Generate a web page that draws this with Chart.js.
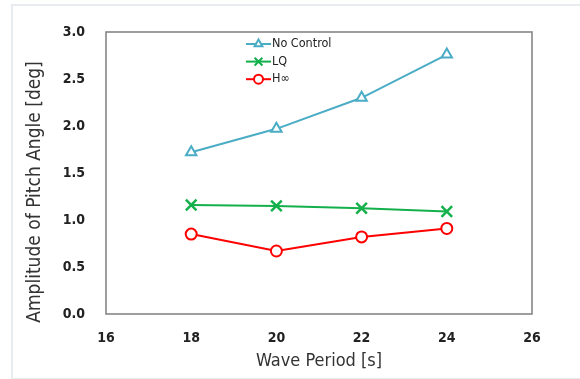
<!DOCTYPE html>
<html>
<head>
<meta charset="utf-8">
<script src="https://cdn.jsdelivr.net/npm/chart.js@4/dist/chart.umd.min.js"></script>
<style>
  html, body { margin: 0; padding: 0; background: #fff; overflow: hidden; }
  #wrap { position: relative; width: 580px; height: 379px; overflow: hidden; }
  #frame { position: absolute; left: 11px; top: 4px; width: 640px; height: 372px; border: 2px solid #e8ebef; box-sizing: content-box; }
  canvas { position: absolute; left: 0; top: 0; }
</style>
</head>
<body>
<div id="wrap">
  <div id="frame"></div>
  <canvas id="c" width="580" height="379"></canvas>
</div>
<script>
const wavePeriods = [18, 20, 22, 24];
const noControl = [1.72, 1.97, 2.30, 2.76];
const lq = [1.16, 1.15, 1.125, 1.09];
const hInf = [0.85, 0.67, 0.82, 0.91];
const seriesNames = ['No Control', 'LQ', 'H\u221E'];
const xTicks = [16, 18, 20, 22, 24, 26];
const yTicks = [0, 0.5, 1.0, 1.5, 2.0, 2.5, 3.0];
const xTitle = 'Wave Period [s]';
const yTitle = 'Amplitude of Pitch Angle [deg]';

const FONT = "'DejaVu Sans Condensed', 'DejaVu Sans', sans-serif";

function pts(xs, ys) { return xs.map((x, i) => ({x: x, y: ys[i]})); }

const frameBox = {
  id: 'frameBox',
  beforeDatasetsDraw(chart) {
    const {ctx, chartArea: a} = chart;
    ctx.save();
    ctx.strokeStyle = '#868686';
    ctx.lineWidth = 1.6;
    ctx.strokeRect(a.left, a.top, a.right - a.left, a.bottom - a.top);
    ctx.restore();
  }
};

const yTitlePlugin = {
  id: 'yTitlePlugin',
  afterDraw(chart) {
    const {ctx} = chart;
    ctx.save();
    ctx.translate(35, 192);
    ctx.rotate(-Math.PI / 2);
    ctx.fillStyle = '#333';
    ctx.font = "19px " + FONT;
    ctx.textAlign = 'center';
    ctx.textBaseline = 'middle';
    ctx.fillText(yTitle, 0, 0);
    ctx.restore();
  }
};

const customLegend = {
  id: 'customLegend',
  afterDraw(chart) {
    const {ctx} = chart;
    const x0 = 246, x1 = 271, y0 = 44, dy = 17.6;
    chart.data.datasets.forEach((ds, i) => {
      const y = y0 + i * dy;
      ctx.save();
      ctx.strokeStyle = ds.borderColor;
      ctx.lineWidth = 2;
      ctx.beginPath(); ctx.moveTo(x0, y); ctx.lineTo(x1, y); ctx.stroke();
      ctx.fillStyle = '#ffffff';
      ctx.strokeStyle = ds.borderColor;
      ctx.lineWidth = 2;
      Chart.helpers.drawPoint(ctx, { pointStyle: ds.pointStyle, radius: ds.pointStyle === 'crossRot' ? 5.5 : 4.5, borderWidth: 2, rotation: 0 }, (x0 + x1) / 2, y);
      ctx.fillStyle = '#222';
      ctx.font = "12.5px " + FONT;
      ctx.textBaseline = 'middle';
      ctx.textAlign = 'left';
      ctx.fillText(ds.label, x1 + 1, y);
      ctx.restore();
    });
  }
};

function mkDs(label, ys, color, style, r, bw) {
  return {
    label: label,
    data: pts(wavePeriods, ys),
    borderColor: color,
    backgroundColor: '#ffffff',
    pointBorderColor: color,
    pointBackgroundColor: 'rgba(255,255,255,1)',
    pointStyle: style,
    pointRadius: r,
    pointBorderWidth: bw,
    borderWidth: 2,
    tension: 0,
    showLine: true
  };
}

const chart = new Chart(document.getElementById('c'), {
  type: 'scatter',
  data: {
    datasets: [
      mkDs(seriesNames[0], noControl, '#4bacc6', 'triangle', 6, 2),
      mkDs(seriesNames[1], lq, '#14b04c', 'crossRot', 7.5, 2.5),
      mkDs(seriesNames[2], hInf, '#ff0000', 'circle', 5.5, 2)
    ]
  },
  options: {
    responsive: false,
    animation: false,
    devicePixelRatio: 1,
    layout: { padding: { top: 32, right: 48, left: 0, bottom: 0 } },
    plugins: {
      legend: { display: false },
      tooltip: { enabled: false }
    },
    scales: {
      x: {
        type: 'linear',
        min: 16, max: 26,
        afterBuildTicks(s) { s.ticks = xTicks.map(v => ({value: v})); },
        afterFit(s) { s.height = 65; },
        grid: { display: false, drawTicks: false },
        border: { display: false },
        ticks: {
          padding: 16,
          color: '#222',
          font: { family: FONT, size: 14, weight: 'bold' },
          callback: v => String(v)
        },
        title: {
          display: true,
          text: xTitle,
          color: '#333',
          font: { family: FONT, size: 18 },
          padding: { top: 0, bottom: 7 }
        }
      },
      y: {
        type: 'linear',
        min: 0, max: 3,
        afterBuildTicks(s) { s.ticks = yTicks.map(v => ({value: v})); },
        afterFit(s) { s.width = 106; },
        grid: { display: false, drawTicks: false },
        border: { display: false },
        ticks: {
          padding: 21,
          color: '#222',
          font: { family: FONT, size: 14, weight: 'bold' },
          callback: v => Number(v).toFixed(1)
        },
        title: { display: false }
      }
    }
  },
  plugins: [frameBox, yTitlePlugin, customLegend]
});
</script>
</body>
</html>
